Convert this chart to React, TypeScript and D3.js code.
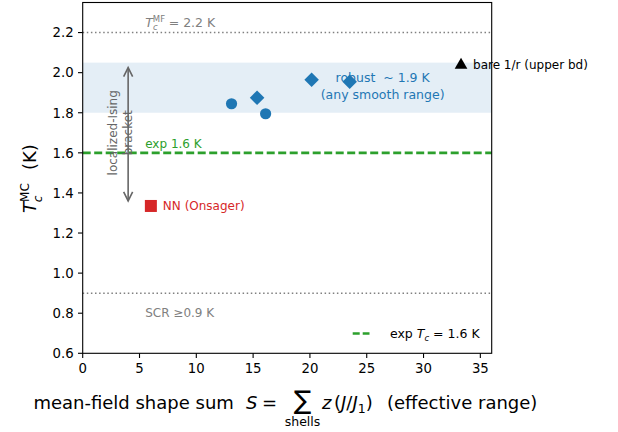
import React from "react";
import * as d3 from "d3";

const xTicks = [0, 5, 10, 15, 20, 25, 30, 35];
const yTicks = [0.6, 0.8, 1.0, 1.2, 1.4, 1.6, 1.8, 2.0, 2.2];

const circleX = [13.1, 16.1];
const circleY = [1.845, 1.795];
const diamondX = [15.35, 20.15, 23.5];
const diamondY = [1.875, 1.965, 1.955];
const bareX = [33.3];
const bareY = [2.04];
const nnX = [6.0];
const nnY = [1.335];

const mfLine = 2.2;
const expLine = 1.6;
const scrLine = 0.9;
const bandLo = 1.8;
const bandHi = 2.05;
const arrowX = 4;
const arrowLo = 1.36;
const arrowHi = 2.025;

const W = 618;
const H = 432;
const L = 82.7;
const R = 491.7;
const T = 2.5;
const B = 353.3;

const FONT = "DejaVu Sans, sans-serif";

export default function App() {
  const x = d3.scaleLinear().domain([0, 36]).range([L, R]);
  const y = d3.scaleLinear().domain([0.6, 2.35]).range([B, T]);
  const blue = "#1f77b4";
  const gray = "#808080";
  const dgray = "#666666";

  const diamond = d3.symbol().type(d3.symbolDiamond2).size(135)();
  const tri = d3.symbol().type(d3.symbolTriangle).size(70)();

  const ax = x(arrowX);
  const aTop = y(arrowHi);
  const aBot = y(arrowLo);

  return (
    <div style={{ position: "fixed", left: 0, top: 0 }}>
      <svg width={W} height={H} style={{ display: "block", background: "#fff" }} fontFamily={FONT}>
        <rect x={0} y={0} width={W} height={H} fill="#fff" />
        {/* band */}
        <rect x={L} y={y(bandHi)} width={R - L} height={y(bandLo) - y(bandHi)} fill={blue} fillOpacity={0.12} />
        {/* reference lines */}
        <line x1={L} x2={R} y1={y(mfLine)} y2={y(mfLine)} stroke={gray} strokeWidth={1.5} strokeDasharray="1.5 2.6" />
        <line x1={L} x2={R} y1={y(scrLine)} y2={y(scrLine)} stroke={gray} strokeWidth={1.5} strokeDasharray="1.5 2.6" />
        <line x1={L} x2={R} y1={y(expLine)} y2={y(expLine)} stroke="#2ca02c" strokeWidth={2.6} strokeDasharray="8 3.5" />

        {/* annotation texts */}
        <text x={x(5.5)} y={y(2.23)} fill={gray} fontSize={12.5}>
          <tspan fontStyle="italic">T</tspan>
          <tspan fontSize={8.5} dy={-5}>MF</tspan>
          <tspan fontSize={8.5} dx={-12} dy={8} fontStyle="italic">c</tspan>
          <tspan fontSize={12.5} dx={7} dy={-3}>{"\u00a0= 2.2 K"}</tspan>
        </text>
        <text x={x(5.5)} y={y(1.625)} fill="#2ca02c" fontSize={12}>exp 1.6 K</text>
        <text x={x(5.5)} y={y(0.78)} fill={gray} fontSize={12}>SCR ≥0.9 K</text>

        {/* bracket text */}
        <g transform={`translate(${x(3.25)},${y(1.7)}) rotate(-90)`} fill={dgray} fontSize={12} textAnchor="middle">
          <text x={0} y={-3}>localized-Ising</text>
          <text x={0} y={12}>bracket</text>
        </g>
        {/* arrow */}
        <g stroke={dgray} strokeWidth={1.6} fill="none">
          <line x1={ax} x2={ax} y1={aTop} y2={aBot} />
          <polyline points={`${ax - 4.5},${aTop + 9} ${ax},${aTop} ${ax + 4.5},${aTop + 9}`} />
          <polyline points={`${ax - 4.5},${aBot - 9} ${ax},${aBot} ${ax + 4.5},${aBot - 9}`} />
        </g>

        {/* robust text */}
        <g fill={blue} fontSize={12.5} textAnchor="middle">
          <text x={x(26.4)} y={y(1.953)}>{"robust\u00a0 ~\u00a01.9 K"}</text>
          <text x={x(26.4)} y={y(1.87)}>(any smooth range)</text>
        </g>

        {/* markers */}
        {circleX.map((cx, i) => (
          <circle key={"c" + i} cx={x(cx)} cy={y(circleY[i])} r={5.6} fill={blue} />
        ))}
        {diamondX.map((dx, i) => (
          <path key={"d" + i} d={diamond} transform={`translate(${x(dx)},${y(diamondY[i])})`} fill={blue} />
        ))}
        {bareX.map((bx, i) => (
          <g key={"b" + i}>
            <path d={tri} transform={`translate(${x(bx)},${y(bareY[i]) + 0.5})`} fill="#000" />
            <text x={x(bx) + 12} y={y(bareY[i]) + 4} fontSize={12} fill="#000">bare 1/r (upper bd)</text>
          </g>
        ))}
        {nnX.map((nx, i) => (
          <g key={"n" + i}>
            <rect x={x(nx) - 6} y={y(nnY[i]) - 6} width={12} height={12} fill="#d62728" />
            <text x={x(nx) + 12} y={y(nnY[i]) + 4.5} fontSize={12} fill="#d62728">NN (Onsager)</text>
          </g>
        ))}

        {/* legend */}
        <line x1={352.7} x2={369.5} y1={333.5} y2={333.5} stroke="#2ca02c" strokeWidth={2.6} strokeDasharray="7 3" />
        <text x={390} y={337.5} fontSize={12.5} fill="#000">
          exp <tspan fontStyle="italic">T</tspan>
          <tspan fontSize={8.5} fontStyle="italic" dy={3}>c</tspan>
          <tspan dy={-3}>{"\u00a0= 1.6 K"}</tspan>
        </text>

        {/* spines */}
        <rect x={L} y={T} width={R - L} height={B - T} fill="none" stroke="#000" strokeWidth={1.1} />

        {/* x ticks */}
        {xTicks.map((t) => (
          <g key={"xt" + t}>
            <line x1={x(t)} x2={x(t)} y1={B} y2={B + 4.7} stroke="#000" strokeWidth={1.1} />
            <text x={x(t)} y={B + 19.5} textAnchor="middle" fontSize={13.3} fill="#000">{t}</text>
          </g>
        ))}
        {/* y ticks */}
        {yTicks.map((t) => (
          <g key={"yt" + t}>
            <line x1={L - 4.7} x2={L} y1={y(t)} y2={y(t)} stroke="#000" strokeWidth={1.1} />
            <text x={L - 9} y={y(t) + 4.8} textAnchor="end" fontSize={13.3} fill="#000">{t.toFixed(1)}</text>
          </g>
        ))}

        {/* y label */}
        <g transform={`translate(30,${(T + B) / 2}) rotate(-90)`} fontSize={18} fill="#000">
          <text x={-35} y={6}>
            <tspan fontStyle="italic">T</tspan>
            <tspan fontSize={12} dy={-7}>MC</tspan>
            <tspan fontSize={12} fontStyle="italic" dx={-19} dy={13}>c</tspan>
            <tspan dx={14} dy={-6}>{"\u00a0 (K)"}</tspan>
          </text>
        </g>

        {/* x label */}
        <g fontSize={18} fill="#000">
          <text x={33.4} y={409}>mean-field shape sum</text>
          <text x={246} y={409} fontStyle="italic">S</text>
          <text x={262} y={409}>=</text>
          <text x={302.5} y={409} textAnchor="middle" fontSize={26}>∑</text>
          <text x={302.5} y={426} textAnchor="middle" fontSize={12.5}>shells</text>
          <text x={322} y={409} fontStyle="italic">z</text>
          <text x={334} y={409}>(<tspan fontStyle="italic">J</tspan>/<tspan fontStyle="italic">J</tspan><tspan fontSize={12.5} dy={4}>1</tspan><tspan dy={-4}>)</tspan></text>
          <text x={387} y={409}>(effective range)</text>
        </g>
      </svg>
    </div>
  );
}
